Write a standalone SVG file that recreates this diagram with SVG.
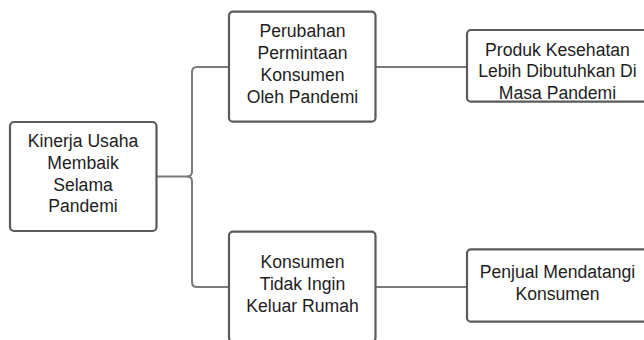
<svg xmlns="http://www.w3.org/2000/svg" width="644" height="340" viewBox="0 0 644 340">
  <style>
    .box { fill: #ffffff; stroke: #5a5a5a; stroke-width: 2.2; }
    .link { fill: none; stroke: #7a7a7a; stroke-width: 2; }
    .label { font-family: "Liberation Sans", Arial, sans-serif; font-size: 17.6px; fill: #1e1e1e; text-anchor: middle; }
  </style>
  <rect width="644" height="340" fill="#ffffff"/>

  <!-- connectors -->
  <g id="connectors">
    <path class="link" d="M229,67 H197 Q192,67 192,72 V171.5 Q192,176.5 187,176.5 H157"/>
    <path class="link" d="M229,287 H197 Q192,287 192,282 V181.5 Q192,176.5 187,176.5"/>
    <path class="link" d="M376,67 H467"/>
    <path class="link" d="M376,287 H467"/>
  </g>

  <!-- root -->
  <g id="kinerja">
    <rect class="box" x="10" y="122" width="146.5" height="109" rx="4"/>
    <text class="label" x="83" y="147.3">Kinerja Usaha</text>
    <text class="label" x="83" y="168.9">Membaik</text>
    <text class="label" x="83" y="190.5">Selama</text>
    <text class="label" x="83" y="212.1">Pandemi</text>
  </g>

  <g id="perubahan">
    <rect class="box" x="229" y="11.7" width="146.5" height="110" rx="4"/>
    <text class="label" x="302.5" y="37.3">Perubahan</text>
    <text class="label" x="302.5" y="59.1">Permintaan</text>
    <text class="label" x="302.5" y="80.9">Konsumen</text>
    <text class="label" x="302.5" y="102.7">Oleh Pandemi</text>
  </g>

  <g id="konsumen">
    <rect class="box" x="229" y="231.7" width="146.5" height="110" rx="4"/>
    <text class="label" x="302.5" y="268.3">Konsumen</text>
    <text class="label" x="302.5" y="290">Tidak Ingin</text>
    <text class="label" x="302.5" y="311.7">Keluar Rumah</text>
  </g>

  <g id="produk">
    <rect class="box" x="467" y="30" width="181" height="71.7" rx="4"/>
    <text class="label" x="557.5" y="55.7">Produk Kesehatan</text>
    <text class="label" x="557.5" y="77.4">Lebih Dibutuhkan Di</text>
    <text class="label" x="557.5" y="99.1">Masa Pandemi</text>
  </g>

  <g id="penjual">
    <rect class="box" x="467" y="249.3" width="181" height="72.4" rx="4"/>
    <text class="label" x="557.5" y="277.8">Penjual Mendatangi</text>
    <text class="label" x="557.5" y="299.8">Konsumen</text>
  </g>
</svg>
